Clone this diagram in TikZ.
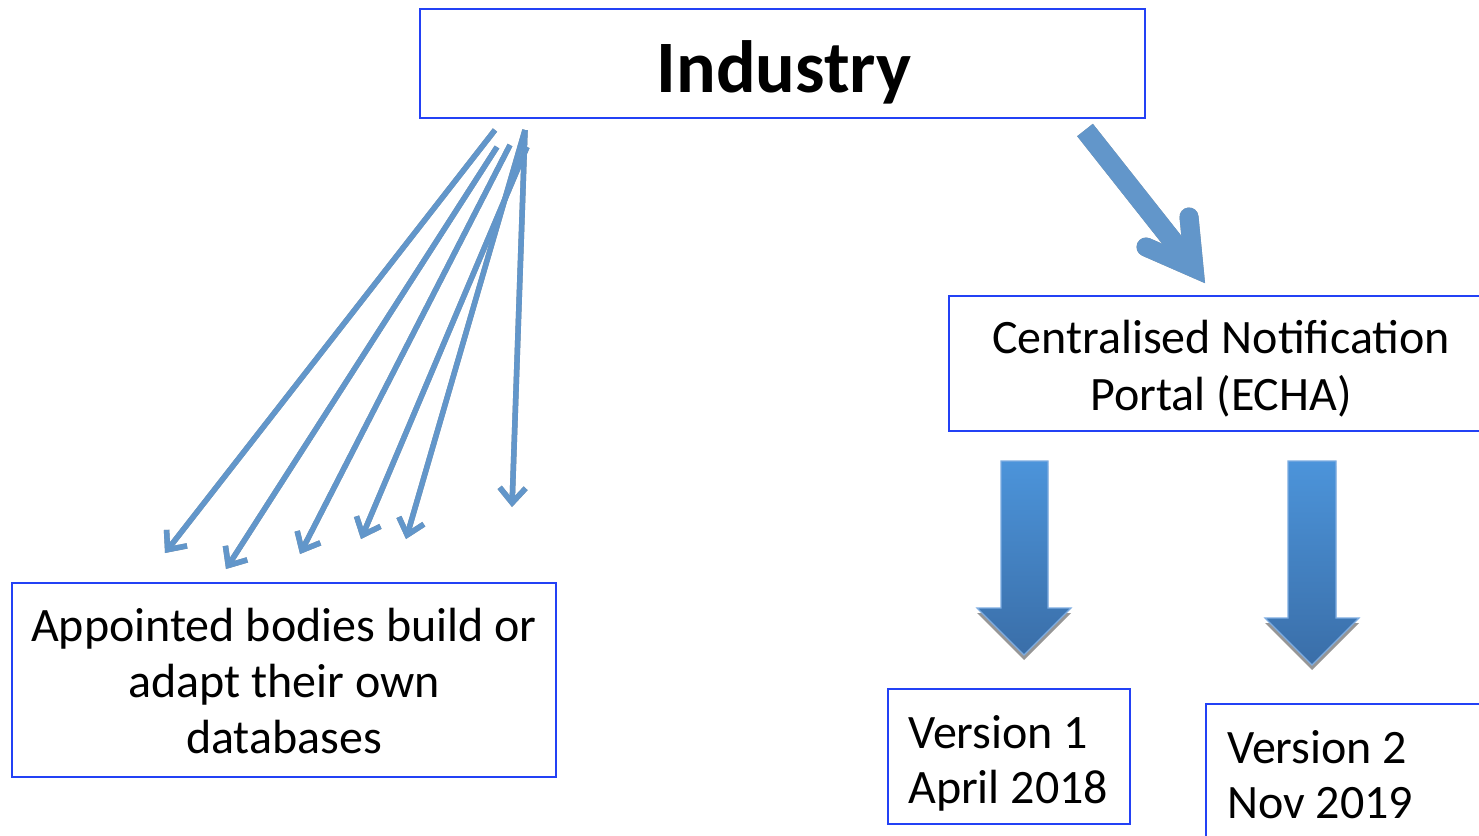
\documentclass[tikz,border=0pt]{standalone}
\usepackage{fontspec}
\setmainfont{Carlito}
\usetikzlibrary{arrows.meta}
\definecolor{boxblue}{RGB}{35,65,245}
\definecolor{arrblue}{RGB}{98,150,202}
\definecolor{shad}{RGB}{150,150,150}
\definecolor{gradtop}{RGB}{76,148,218}
\definecolor{gradbot}{RGB}{58,110,168}
\definecolor{gradedge}{RGB}{125,172,225}
\tikzset{
  box/.style={draw=boxblue, line width=2pt, fill=white, inner sep=0pt, rectangle},
  txt/.style={inner sep=0pt, font=\fontsize{48}{56}\selectfont, anchor=base},
  txtl/.style={inner sep=0pt, font=\fontsize{48}{56}\selectfont, anchor=base west},
  bigtxt/.style={inner sep=0pt, font=\fontsize{74}{88}\selectfont\bfseries, anchor=base},
  thinarr/.style={draw=arrblue, line width=5.5pt, -{Straight Barb[length=15pt,width=26pt]}},
  thinshadow/.style={draw=shad, line width=5.5pt, -{Straight Barb[length=15pt,width=26pt]}},
  blockarr/.style={top color=gradtop, bottom color=gradbot, draw=gradedge, line width=1.2pt},
  blockshadow/.style={fill=shad},
}
\begin{document}
\begin{tikzpicture}[x=1pt,y=-1pt]
\useasboundingbox (0,0) rectangle (1479,835);
\clip (0,0) rectangle (1479,835);

% boxes
\node[box, minimum width=725pt, minimum height=109pt] (ind) at (782.5,63.5) {};
\node[box, minimum width=541pt, minimum height=135pt] (cnp) at (1219.5,363.5) {};
\node[box, minimum width=544pt, minimum height=194pt] (app) at (284,680) {};
\node[box, minimum width=242pt, minimum height=135pt] (v1) at (1009,756.5) {};
\node[box, minimum width=294pt, minimum height=146pt] (v2) at (1353,777) {};

% texts
\node[bigtxt] (indt) at (784,92) {Industry};
\node[txt] (cnpa) at (1221,353) {Centralised Notification};
\node[txt] (cnpb) at (1221,410) {Portal (ECHA)};
\node[txt] (appa) at (284,641) {Appointed bodies build or};
\node[txt] (appb) at (284,697) {adapt their own};
\node[txt] (appc) at (284,753) {databases};
\node[txtl] (v1a) at (908,748) {Version 1};
\node[txtl] (v1b) at (908,803) {April 2018};
\node[txtl] (v2a) at (1227,763) {Version 2};
\node[txtl] (v2b) at (1227,818) {Nov 2019};

% thin arrow end points
\coordinate (s1) at (495,130); \coordinate (e1) at (165,553);
\coordinate (s2) at (497,147); \coordinate (e2) at (226,569);
\coordinate (s3) at (510,145); \coordinate (e3) at (300,554);
\coordinate (s4) at (527,147); \coordinate (e4) at (361,539);
\coordinate (s5) at (525,130); \coordinate (e5) at (406,539);
\coordinate (s6) at (525,130); \coordinate (e6) at (512,507);

\begin{scope}[shift={(2,3.5)}]
  \foreach \i in {1,...,6} \draw[thinshadow] (s\i) -- (e\i);
\end{scope}
\foreach \i in {1,...,6} \draw[thinarr] (s\i) -- (e\i);

% thick arrow Industry -> CNP
\coordinate (ts) at (1085,130);
\coordinate (tv) at (1194,268);
\coordinate (tb1) at (1189,217);
\coordinate (tb2) at (1146,247);
\begin{scope}[shift={(-1.5,3.5)}]
  \draw[shad, line width=20pt] (ts) -- (tv);
  \draw[shad, line width=19pt, line cap=round, line join=miter] (tb1) -- (tv) -- (tb2);
\end{scope}
\draw[arrblue, line width=20pt] (ts) -- (tv);
\draw[arrblue, line width=19pt, line cap=round, line join=miter] (tb1) -- (tv) -- (tb2);

% block arrows
\fill[blockshadow] (1001,466) -- (1048,466) -- (1048,613) -- (1071,613) -- (1024,660) -- (977,613) -- (1001,613) -- cycle;
\shade[blockarr] (1001,461) -- (1048,461) -- (1048,608) -- (1071,608) -- (1024,655) -- (977,608) -- (1001,608) -- cycle;
\fill[blockshadow] (1288,466) -- (1336,466) -- (1336,623) -- (1359,623) -- (1312,670) -- (1265,623) -- (1288,623) -- cycle;
\shade[blockarr] (1288,461) -- (1336,461) -- (1336,618) -- (1359,618) -- (1312,665) -- (1265,618) -- (1288,618) -- cycle;
\end{tikzpicture}
\end{document}
